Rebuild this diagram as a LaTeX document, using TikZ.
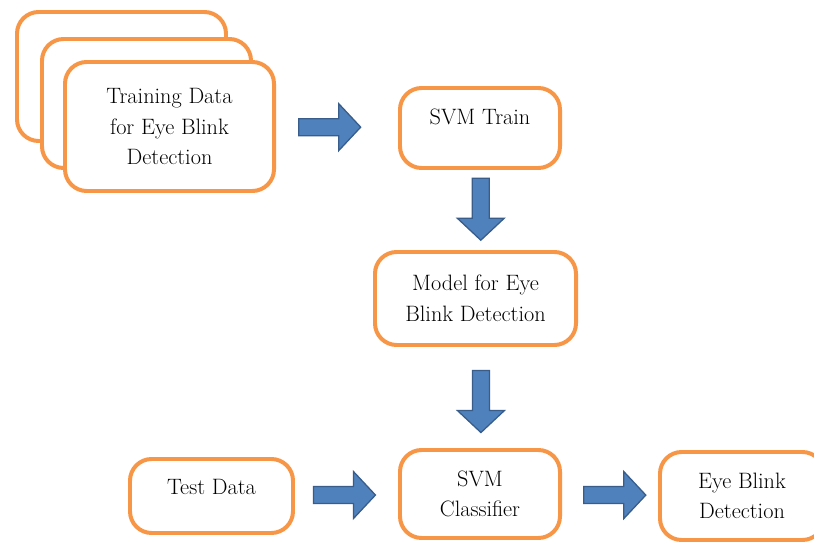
\documentclass[tikz,border=0pt]{standalone}
\usetikzlibrary{calc}
\definecolor{boxorange}{RGB}{247,150,70}
\definecolor{arrowblue}{RGB}{79,129,189}
\definecolor{arrowedge}{RGB}{56,93,138}
\tikzset{
  stepbox/.style={draw=boxorange, line width=3.4pt, rounded corners=0.65cm,
    fill=white, align=center, inner sep=0pt,
    font=\fontsize{19}{26}\selectfont},
  pics/blockarrow/.style={code={%
    \draw [draw=arrowedge, line width=1.1pt, fill=arrowblue]
      (-31,-8.5) -- (9,-8.5) -- (9,-23.5) -- (31,0) -- (9,23.5) -- (9,8.5) -- (-31,8.5) -- cycle;}}
}
\begin{document}
\begin{tikzpicture}[x=0.03cm, y=-0.03cm]
                \clip (0,0) rectangle (814,542);
                \fill [white] (0,0) rectangle (814,542);

                % Drawing stacked training boxes
                \node [stepbox, minimum width=6.27cm, minimum height=3.87cm] (back1) at (121.5,76.5) {};%
                \node [stepbox, minimum width=6.27cm, minimum height=3.87cm] (back2) at (146.5,103.5) {};%
                \node [stepbox, minimum width=6.27cm, minimum height=3.87cm] (train) at (169.5,126.5)
                  {Training Data\\for Eye Blink\\Detection};%

                % Drawing box SVM Train
                \node [stepbox, minimum width=4.8cm, minimum height=2.4cm, text depth=0.66cm] (svmtrain) at (480,128) {SVM Train};%

                % Drawing box model
                \node [stepbox, minimum width=6.03cm, minimum height=2.79cm] (model) at (475.5,298.5)
                  {Model for Eye\\Blink Detection};%

                % Drawing box test data
                \node [stepbox, minimum width=4.89cm, minimum height=2.22cm, text depth=0.54cm] (testdata) at (211.5,496) {Test Data};%

                % Drawing box SVM Classifier
                \node [stepbox, minimum width=4.8cm, minimum height=2.64cm] (classifier) at (480,494)
                  {SVM\\Classifier};%

                % Drawing box result
                \node [stepbox, minimum width=4.92cm, minimum height=2.64cm] (result) at (742,496)
                  {Eye Blink\\Detection};%

                % Drawing block arrows between the boxes
                \pic at ($(train.east)!0.44!(svmtrain.west)$) {blockarrow};%
                \pic [rotate=-90] at ($(svmtrain.south)!0.49!(model.north)+(3,0)$) {blockarrow};%
                \pic [rotate=-90] at ($(model.south)!0.54!(classifier.north)+(3,0)$) {blockarrow};%
                \pic at ($(testdata.east)!0.48!(classifier.west)$) {blockarrow};%
                \pic at ($(classifier.east)!0.55!(result.west)$) {blockarrow};%
\end{tikzpicture}
\end{document}
